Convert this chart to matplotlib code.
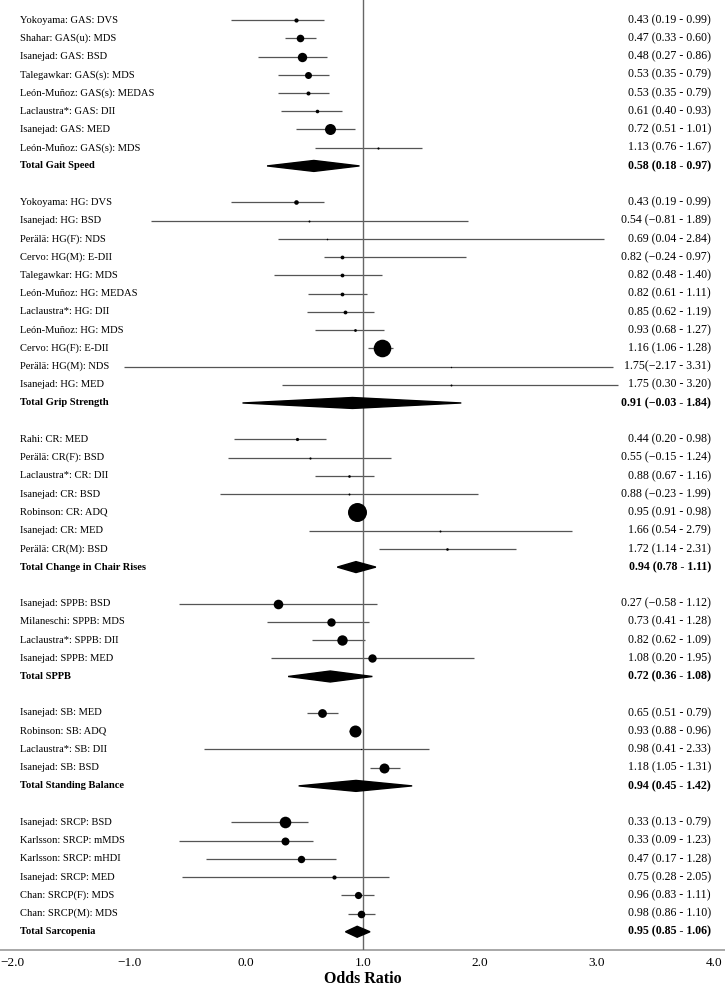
import matplotlib
matplotlib.use("Agg")
import matplotlib.pyplot as plt
from matplotlib.patches import Polygon

# ---------------- data ----------------
section_counts = [8, 11, 7, 4, 4, 6]

study_labels = [
    "Yokoyama: GAS: DVS", "Shahar: GAS(u): MDS", "Isanejad: GAS: BSD",
    "Talegawkar: GAS(s): MDS", "León-Muñoz: GAS(s): MEDAS", "Laclaustra*: GAS: DII",
    "Isanejad: GAS: MED", "León-Muñoz: GAS(s): MDS",
    "Yokoyama: HG: DVS", "Isanejad: HG: BSD", "Perälä: HG(F): NDS", "Cervo: HG(M): E-DII",
    "Talegawkar: HG: MDS", "León-Muñoz: HG: MEDAS", "Laclaustra*: HG: DII",
    "León-Muñoz: HG: MDS", "Cervo: HG(F): E-DII", "Perälä: HG(M): NDS", "Isanejad: HG: MED",
    "Rahi: CR: MED", "Perälä: CR(F): BSD", "Laclaustra*: CR: DII", "Isanejad: CR: BSD",
    "Robinson: CR: ADQ", "Isanejad: CR: MED", "Perälä: CR(M): BSD",
    "Isanejad: SPPB: BSD", "Milaneschi: SPPB: MDS", "Laclaustra*: SPPB: DII", "Isanejad: SPPB: MED",
    "Isanejad: SB: MED", "Robinson: SB: ADQ", "Laclaustra*: SB: DII", "Isanejad: SB: BSD",
    "Isanejad: SRCP: BSD", "Karlsson: SRCP: mMDS", "Karlsson: SRCP: mHDI",
    "Isanejad: SRCP: MED", "Chan: SRCP(F): MDS", "Chan: SRCP(M): MDS",
]

study_est = [0.43, 0.46, 0.48, 0.53, 0.53, 0.61, 0.72, 1.13,
             0.43, 0.54, 0.69, 0.82, 0.82, 0.82, 0.85, 0.93, 1.16, 1.75, 1.75,
             0.44, 0.55, 0.88, 0.88, 0.95, 1.66, 1.72,
             0.27, 0.73, 0.82, 1.08,
             0.65, 0.93, 0.98, 1.18,
             0.33, 0.33, 0.47, 0.75, 0.96, 0.98]
study_lo = [-0.13, 0.33, 0.10, 0.27, 0.27, 0.30, 0.43, 0.59,
            -0.13, -0.81, 0.27, 0.67, 0.24, 0.53, 0.52, 0.59, 1.04, -1.04, 0.31,
            -0.10, -0.15, 0.59, -0.22, 0.91, 0.54, 1.14,
            -0.575, 0.18, 0.56, 0.21,
            0.52, 0.88, -0.36, 1.06,
            -0.13, -0.57, -0.34, -0.55, 0.81, 0.87]
study_hi = [0.67, 0.60, 0.69, 0.71, 0.71, 0.82, 0.93, 1.50,
            0.67, 1.90, 3.06, 1.88, 1.16, 1.03, 1.09, 1.18, 1.26, 3.14, 3.18,
            0.68, 1.24, 1.09, 1.98, 0.98, 2.79, 2.31,
            1.12, 1.05, 1.02, 1.95,
            0.79, 0.96, 1.56, 1.32,
            0.53, 0.57, 0.77, 1.22, 1.09, 1.10]
study_weight = [2.1, 3.8, 4.7, 3.5, 2.0, 1.8, 5.5, 1.1,
                2.3, 1.0, 0.8, 1.9, 1.9, 1.9, 1.9, 1.4, 8.8, 0.7, 1.0,
                1.6, 1.1, 1.3, 1.0, 9.5, 1.0, 1.3,
                4.8, 4.2, 5.2, 4.2,
                4.4, 6.0, 0.6, 5.0,
                5.8, 4.0, 3.7, 2.1, 3.6, 3.8]
study_text = [
    "0.43 (0.19 - 0.99)", "0.47 (0.33 - 0.60)", "0.48 (0.27 - 0.86)", "0.53 (0.35 - 0.79)",
    "0.53 (0.35 - 0.79)", "0.61 (0.40 - 0.93)", "0.72 (0.51 - 1.01)", "1.13 (0.76 - 1.67)",
    "0.43 (0.19 - 0.99)", "0.54 (\u22120.81 - 1.89)", "0.69 (0.04 - 2.84)", "0.82 (\u22120.24 - 0.97)",
    "0.82 (0.48 - 1.40)", "0.82 (0.61 - 1.11)", "0.85 (0.62 - 1.19)", "0.93 (0.68 - 1.27)",
    "1.16 (1.06 - 1.28)", "1.75(\u22122.17 - 3.31)", "1.75 (0.30 - 3.20)",
    "0.44 (0.20 - 0.98)", "0.55 (\u22120.15 - 1.24)", "0.88 (0.67 - 1.16)", "0.88 (\u22120.23 - 1.99)",
    "0.95 (0.91 - 0.98)", "1.66 (0.54 - 2.79)", "1.72 (1.14 - 2.31)",
    "0.27 (\u22120.58 - 1.12)", "0.73 (0.41 - 1.28)", "0.82 (0.62 - 1.09)", "1.08 (0.20 - 1.95)",
    "0.65 (0.51 - 0.79)", "0.93 (0.88 - 0.96)", "0.98 (0.41 - 2.33)", "1.18 (1.05 - 1.31)",
    "0.33 (0.13 - 0.79)", "0.33 (0.09 - 1.23)", "0.47 (0.17 - 1.28)", "0.75 (0.28 - 2.05)",
    "0.96 (0.83 - 1.11)", "0.98 (0.86 - 1.10)",
]

total_labels = ["Total Gait Speed", "Total Grip Strength", "Total Change in Chair Rises",
                "Total SPPB", "Total Standing Balance", "Total Sarcopenia"]
total_est = [0.58, 0.91, 0.94, 0.72, 0.94, 0.95]
total_lo = [0.18, -0.03, 0.78, 0.36, 0.45, 0.85]
total_hi = [0.97, 1.84, 1.11, 1.08, 1.42, 1.06]
total_text = ["0.58 (0.18 - 0.97)", "0.91 (\u22120.03 - 1.84)", "0.94 (0.78 - 1.11)",
              "0.72 (0.36 - 1.08)", "0.94 (0.45 - 1.42)", "0.95 (0.85 - 1.06)"]

x_ticks = [-2.0, -1.0, 0.0, 1.0, 2.0, 3.0, 4.0]
x_tick_labels = ["\u22122.0", "\u22121.0", "0.0", "1.0", "2.0", "3.0", "4.0"]

# ---------------- figure ----------------
plt.rcParams['font.family'] = ['Liberation Serif', 'DejaVu Serif']
W, H = 725, 989
fig = plt.figure(figsize=(W / 100, H / 100), dpi=100)
ax = fig.add_axes([0, 39 / H, 1, 950 / H])

px_per_unit = 117.0
x0px = 12.0  # pixel of -2.0
ax.set_xlim(-2 - x0px / px_per_unit, -2 + (W - x0px) / px_per_unit)
ax.set_ylim(51.0, -1.1)

ci_color = '#555555'
label_x = -2 + (20 - x0px) / px_per_unit
value_x = -2 + (711 - x0px) / px_per_unit
dh = 0.30

row = 0
idx = 0
for s, n in enumerate(section_counts):
    for k in range(n):
        i = idx + k
        ax.plot([study_lo[i], study_hi[i]], [row, row], color=ci_color, lw=0.9,
                solid_capstyle='butt', zorder=2)
        ax.plot([study_est[i]], [row], marker='o', color='black', mec='black',
                ms=2 * study_weight[i] * 0.72, mew=0, zorder=4)
        ax.text(label_x, row, study_labels[i], ha='left', va='center', fontsize=7.6)
        ax.text(value_x, row, study_text[i], ha='right', va='center', fontsize=8.6)
        row += 1
    idx += n
    poly = Polygon([(total_lo[s], row), (total_est[s], row - dh), (total_hi[s], row),
                    (total_est[s], row + dh)], closed=True, color='black', zorder=4)
    ax.add_patch(poly)
    ax.text(label_x, row, total_labels[s], ha='left', va='center', fontsize=7.6,
            fontweight='bold')
    ax.text(value_x, row, total_text[s], ha='right', va='center', fontsize=8.6,
            fontweight='bold')
    row += 2

ax.axvline(1.0, color='#666666', lw=1.0, zorder=3)

for sp in ['top', 'left', 'right']:
    ax.spines[sp].set_visible(False)
ax.spines['bottom'].set_color('#999999')
ax.spines['bottom'].set_linewidth(1.2)
ax.set_yticks([])
ax.set_xticks(x_ticks)
ax.set_xticklabels(x_tick_labels, fontsize=9.5)
ax.tick_params(axis='x', length=0, pad=5)

fig.text(363 / W, 1 - 979 / H, "Odds Ratio", ha='center', va='center',
         fontsize=11.5, fontweight='bold')

fig.savefig("out.png", dpi=100)
